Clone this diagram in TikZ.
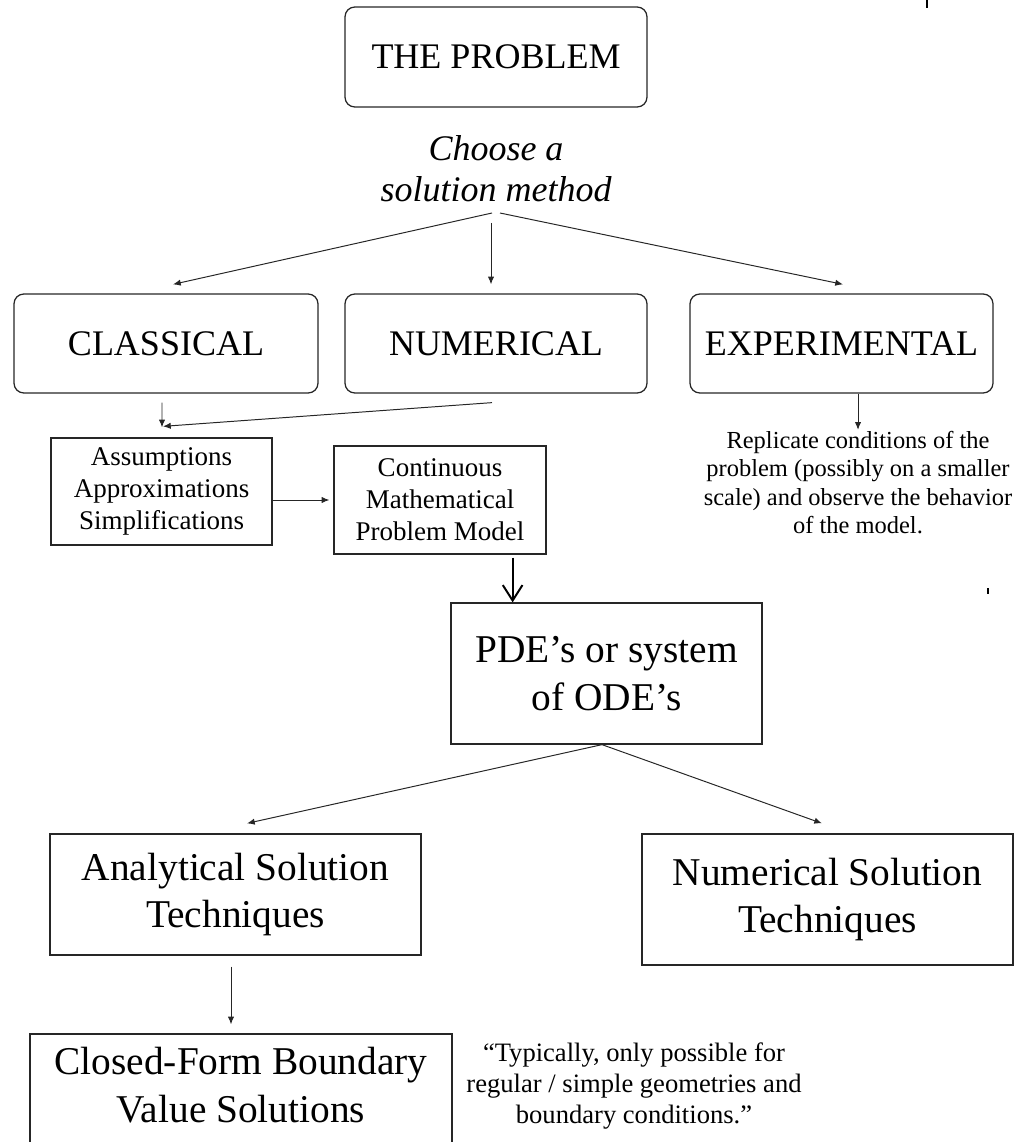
\documentclass[tikz,border=0pt]{standalone}
\usepackage{fontspec}
\setmainfont{Liberation Serif}
\usepackage{tikz}
\usetikzlibrary{arrows.meta,calc}

\newcommand{\pxl}{0.025cm}

\tikzset{
  rbox/.style={draw=black!85, line width=0.9pt, rounded corners=7pt, inner sep=0pt,
    minimum width=#1*\pxl, minimum height=99*\pxl, font=\fontsize{25.6}{30}\selectfont},
  sbox/.style={draw=black!85, line width=0.9pt, inner sep=0pt, align=center,
    font=\fontsize{19.2}{22.8}\selectfont},
  bbox/.style={draw=black!85, line width=0.9pt, inner sep=0pt, align=center,
    font=\fontsize{28}{34}\selectfont},
  arr/.style={-{Latex[length=5.5pt,width=4.5pt]}, line width=0.7pt, black!85},
  bigarr/.style={-{Straight Barb[length=11pt,width=14pt]}, line width=1.4pt}
}

\begin{document}
\begin{tikzpicture}[x=0.025cm, y=-0.025cm]
                \useasboundingbox (0,0) rectangle (1015,1142);

                % Top of the chart
                \node[rbox=302, minimum height=100*\pxl] (problem) at (496,57) {THE PROBLEM};
                \node[align=center, font=\itshape\fontsize{25.6}{29.2}\selectfont] (choose) at (496,169)
                    {Choose a\\solution method};
                \coordinate (fork) at (496,213);

                % Solution methods
                \node[rbox=304] (classical) at (166,343.5) {CLASSICAL};
                \node[rbox=302] (numerical) at (496,343.5) {NUMERICAL};
                \node[rbox=303] (experim) at (841.5,343.5) {EXPERIMENTAL};

                \draw[arr] ($(fork)+(-4,0)$) -- ($(classical.north)+(7,-9)$);
                \draw[arr] ($(fork)+(-5,10)$) -- ($(numerical.north)+(-5,-9)$);
                \draw[arr] ($(fork)+(4,0)$) -- ($(experim.north)+(1.5,-9)$);

                % Modelling boxes
                \node[sbox, minimum width=221*\pxl, minimum height=107*\pxl] (assump) at (161.5,491.5)
                    {Assumptions\\Approximations\\Simplifications};
                \node[sbox, minimum width=212*\pxl, minimum height=108*\pxl] (contin) at (440,500)
                    {Continuous\\Mathematical\\Problem Model};
                \node[align=center, inner sep=1pt, font=\fontsize{17.4}{20}\selectfont] (replic) at (858,482.5)
                    {Replicate conditions of the\\problem (possibly on a smaller\\scale) and observe the behavior\\of the model.};

                \draw[arr] ($(classical.south)+(-4,9)$) -- ($(assump.north)+(0.5,-10)$);
                \draw[arr] ($(numerical.south)+(-4,9)$) -- ($(assump.north)+(1.5,-11)$);
                \draw[arr] (assump.east |- contin.west) -- ($(contin.west)+(-4,0)$);
                \draw[arr] ($(experim.south)+(16.5,0)$) coordinate (ex) -- (ex |- replic.north);

                % Equations
                \node[bbox, minimum width=311*\pxl, minimum height=141*\pxl] (pde) at (606.5,673.5)
                    {PDE’s or system\\of ODE’s};
                \draw[bigarr] ($(contin.south east)+(-34,3)$) coordinate (cm) -- (cm |- pde.north);

                % Solution techniques
                \node[bbox, minimum width=371*\pxl, minimum height=121*\pxl] (anal) at (235.5,894.5)
                    {Analytical Solution\\Techniques};
                \node[bbox, minimum width=371*\pxl, minimum height=131*\pxl] (numsol) at (827.5,899.5)
                    {Numerical Solution\\Techniques};
                \draw[arr] ($(pde.south)+(-4.5,0)$) -- ($(anal.north)+(11.5,-10)$);
                \draw[arr] ($(pde.south)+(-4.5,0)$) -- ($(numsol.north)+(-5.5,-10)$);

                % Bottom row
                \node[bbox, minimum width=422*\pxl, minimum height=116*\pxl] (closed) at (241,1092)
                    {Closed-Form Boundary\\Value Solutions\\[-24pt]\mbox{}};
                \node[align=center, font=\fontsize{18.9}{21.7}\selectfont] (quote) at (634,1086)
                    {“Typically, only possible for\\regular / simple geometries and\\boundary conditions.”};
                \draw[arr] ($(anal.south)+(-4.5,11)$) -- ($(closed.north)+(-10,-9)$);

                % Stray marks
                \draw[line width=0.8pt] (927,0) -- (927,8);
                \draw[line width=0.8pt] (988,588) -- (988,594);
\end{tikzpicture}
\end{document}
